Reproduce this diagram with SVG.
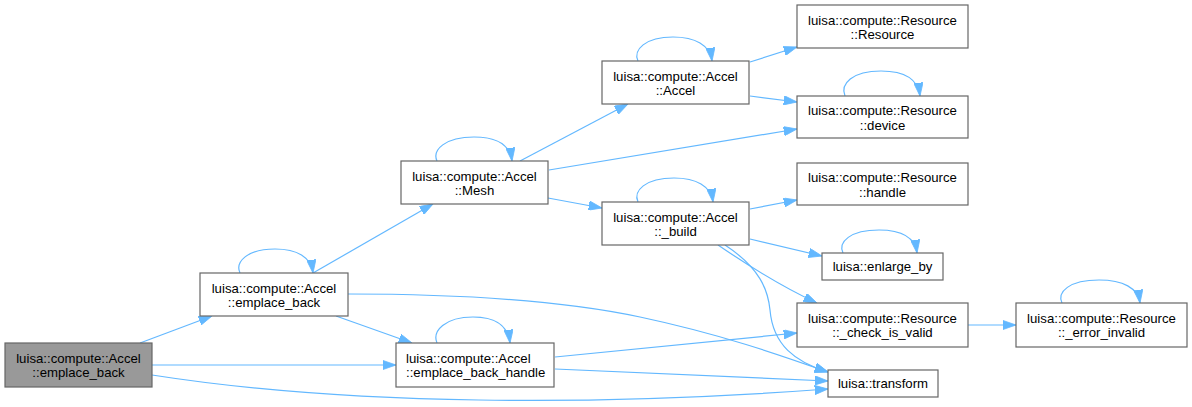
<svg xmlns="http://www.w3.org/2000/svg" width="1192" height="407" viewBox="0 0 1192 407">
<style>
.node rect{fill:#ffffff;stroke:#666666;stroke-width:1.2}
.node.root rect{fill:#999999}
.node text{font-family:"Liberation Sans",Arial,sans-serif;font-size:13.2px;fill:#000000;text-anchor:middle}
.node text.l{text-anchor:start}
.edges path{fill:none;stroke:#63b8ff;stroke-width:1.2;marker-end:url(#arr)}
</style>
<defs>
<marker id="arr" viewBox="0 0 13.3 9.3" refX="13.3" refY="4.65" markerWidth="13.3" markerHeight="9.3" markerUnits="userSpaceOnUse" orient="auto">
<path d="M0,0 L13.3,4.65 L0,9.3 z" fill="#63b8ff" stroke="#63b8ff" stroke-width="0.8"/>
</marker>
</defs>
<rect width="1192" height="407" fill="#ffffff"/>
<g class="edges">
<!-- A -> B -->
<path d="M140,343 L212,316"/>
<!-- A -> C -->
<path d="M152,365 L396,365"/>
<!-- A -> L -->
<path d="M152,375 C350,406 600,406 828,389"/>
<!-- B self -->
<path d="M240,273 C235,262 247,249 275,249 C297,249 311,257 313,273"/>
<!-- B -> D -->
<path d="M313,273 L433,204"/>
<!-- B -> C -->
<path d="M336,316 L412,343"/>
<!-- B -> L -->
<path d="M348,294 C450,294 560,300 640,317 C720,334 780,355 828,372"/>
<!-- C self -->
<path d="M437,343 C432,331 445,317 473,317 C495,317 508,325 510,343"/>
<!-- C -> K -->
<path d="M555,357 L797,333"/>
<!-- C -> L -->
<path d="M555,369 L828,381"/>
<!-- D self -->
<path d="M437,161 C432,150 445,137 474,137 C497,137 510,145 512,161"/>
<!-- D -> E -->
<path d="M520,161 L628,104"/>
<!-- D -> H -->
<path d="M549,170 L797,129"/>
<!-- D -> F -->
<path d="M548,198 L602,208"/>
<!-- E self -->
<path d="M638,61 C633,50 645,37 673,37 C695,37 710,45 712,61"/>
<!-- E -> G -->
<path d="M750,62 L797,47"/>
<!-- E -> H -->
<path d="M750,96 L797,102"/>
<!-- H self -->
<path d="M845,96 C840,84 852,71 881,71 C904,71 918,79 920,96"/>
<!-- F self -->
<path d="M638,202 C633,191 645,178 674,178 C696,178 711,186 713,202"/>
<!-- F -> I -->
<path d="M750,209 L797,200"/>
<!-- F -> J -->
<path d="M750,239 L822,256"/>
<!-- F -> K -->
<path d="M718,245 C740,260 780,286 817,303"/>
<!-- F -> L -->
<path d="M725,245 C760,268 768,290 770,310 C773,345 795,362 828,372"/>
<!-- J self -->
<path d="M843,253 C838,242 850,230 879,230 C902,230 915,238 917,253"/>
<!-- K -> M -->
<path d="M968,325 L1016,325"/>
<!-- M self -->
<path d="M1062,303 C1057,292 1069,280 1099,280 C1123,280 1138,288 1140,303"/>
</g>
<g id="nodeA" class="node root">
<rect x="5" y="343" width="147" height="44"/>
<text x="78.5" y="362.5">luisa::compute::Accel</text>
<text x="78.5" y="377">::emplace_back</text>
</g>
<g id="nodeB" class="node">
<rect x="200" y="273" width="148" height="43"/>
<text x="274" y="292.5">luisa::compute::Accel</text>
<text x="274" y="307">::emplace_back</text>
</g>
<g id="nodeC" class="node">
<rect x="396" y="343" width="158" height="44"/>
<text class="l" x="406" y="362.5">luisa::compute::Accel</text>
<text class="l" x="406" y="377">::emplace_back_handle</text>
</g>
<g id="nodeD" class="node">
<rect x="401" y="161" width="147" height="43"/>
<text x="474.5" y="180.5">luisa::compute::Accel</text>
<text x="474.5" y="195">::Mesh</text>
</g>
<g id="nodeE" class="node">
<rect x="602" y="61" width="147" height="43"/>
<text x="675.5" y="80.5">luisa::compute::Accel</text>
<text x="675.5" y="95">::Accel</text>
</g>
<g id="nodeF" class="node">
<rect x="602" y="202" width="147" height="43"/>
<text x="675.5" y="221.5">luisa::compute::Accel</text>
<text x="675.5" y="236">::_build</text>
</g>
<g id="nodeG" class="node">
<rect x="797" y="5" width="171" height="43"/>
<text x="882.5" y="24.5">luisa::compute::Resource</text>
<text x="882.5" y="39">::Resource</text>
</g>
<g id="nodeH" class="node">
<rect x="797" y="96" width="171" height="42"/>
<text x="882.5" y="115">luisa::compute::Resource</text>
<text x="882.5" y="129.5">::device</text>
</g>
<g id="nodeI" class="node">
<rect x="797" y="163" width="171" height="42"/>
<text x="882.5" y="182">luisa::compute::Resource</text>
<text x="882.5" y="196.5">::handle</text>
</g>
<g id="nodeJ" class="node">
<rect x="822" y="253" width="121" height="27"/>
<text x="882.5" y="271">luisa::enlarge_by</text>
</g>
<g id="nodeK" class="node">
<rect x="797" y="303" width="171" height="44"/>
<text x="882.5" y="322.5">luisa::compute::Resource</text>
<text x="882.5" y="337">::_check_is_valid</text>
</g>
<g id="nodeL" class="node">
<rect x="828" y="370" width="110" height="27"/>
<text x="883" y="388">luisa::transform</text>
</g>
<g id="nodeM" class="node">
<rect x="1016" y="303" width="171" height="44"/>
<text x="1101.5" y="322.5">luisa::compute::Resource</text>
<text x="1101.5" y="337">::_error_invalid</text>
</g>
</svg>
